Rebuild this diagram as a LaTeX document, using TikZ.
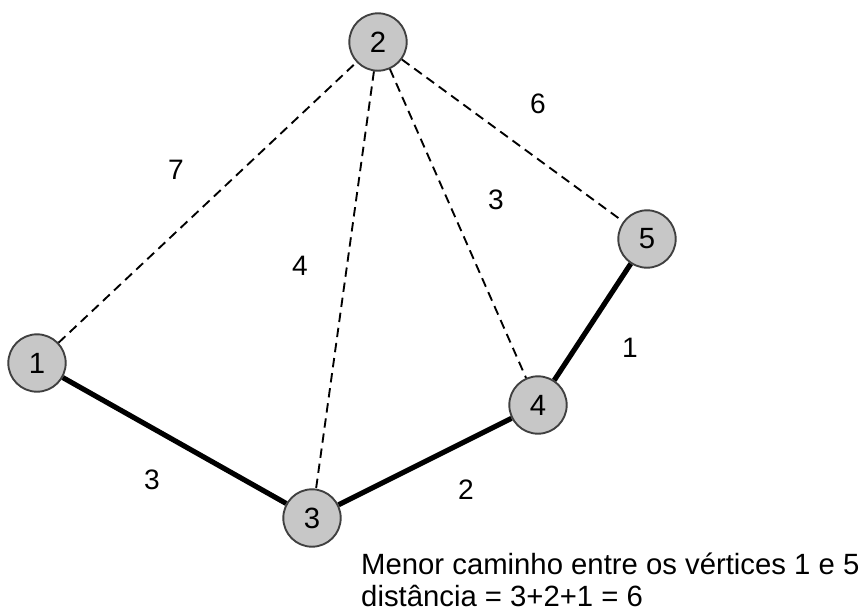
\documentclass[tikz,border=0pt]{standalone}
\usepackage{fontspec}
\setmainfont{Liberation Sans}
\tikzset{
	vertex/.style={circle, draw=black!75, line width=1.6pt, fill=black!22, minimum size=49pt, inner sep=0pt, font=\fontsize{25}{30}\selectfont},
	weight/.style={font=\fontsize{24}{29}\selectfont},
	optional/.style={line width=1.6pt, dash pattern=on 8pt off 5pt},
	shortest/.style={line width=4.4pt},
}
\begin{document}
\begin{tikzpicture}[x=0.03cm, y=-0.03cm]
	\useasboundingbox (0,0) rectangle (866,612);
	\node[vertex] (1) at (37,363) {1};
	\node[vertex] (2) at (378,42) {2};
	\node[vertex] (3) at (312,518) {3};
	\node[vertex] (4) at (538,405) {4};
	\node[vertex] (5) at (647,239) {5};
	
	\node[weight] (w12) at (176,170) {7};
	\node[weight] (w23) at (300,266) {4};
	\node[weight] (w24) at (496,200) {3};
	\node[weight] (w25) at (538,104) {6};
	\node[weight] (w45) at (630,348) {1};
	\node[weight] (w13) at (152,480) {3};
	\node[weight] (w34) at (466,490) {2};
	
	\node[font=\fontsize{25}{27}\selectfont, anchor=west, align=left, inner sep=0pt] (caption) at (361,580) {Menor caminho entre os vértices 1 e 5\\distância = 3+2+1 = 6};
	
	\draw[optional] (1) -- (2);
	\draw[optional] (2) -- (3);
	\draw[optional] (2) -- (4);
	\draw[optional] (2) -- (5);
	\draw[shortest] (1) -- (3);
	\draw[shortest] (3) -- (4);
	\draw[shortest] (4) -- (5);
\end{tikzpicture}
\end{document}
